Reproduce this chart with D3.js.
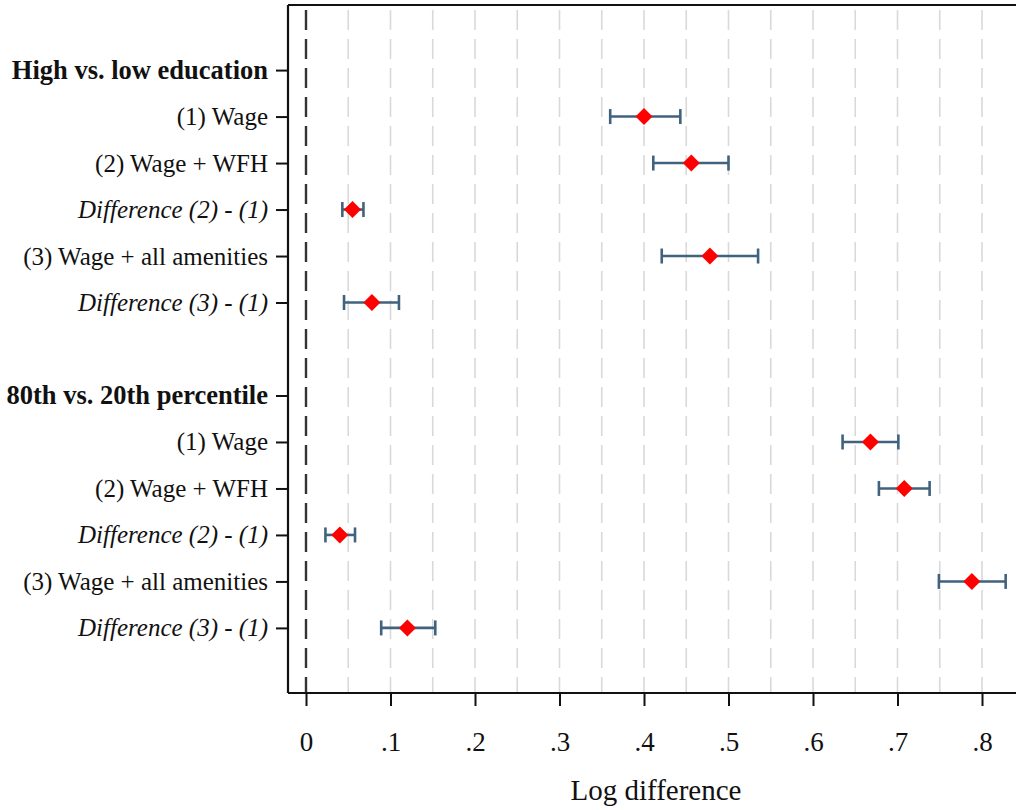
<!DOCTYPE html>
<html>
<head>
<meta charset="utf-8">
<script src="https://cdn.jsdelivr.net/npm/d3@7"></script>
<style>
  body { margin: 0; background: #fff; }
  text { font-family: "Liberation Serif", "Times New Roman", serif; fill: #111; }
</style>
</head>
<body>
<div id="chart"></div>
<script>
// rows top to bottom, "gap" is the empty spacer row between the two blocks
const rowIds = ["edu_head", "edu_1", "edu_2", "edu_d21", "edu_3", "edu_d31", "gap",
                "pct_head", "pct_1", "pct_2", "pct_d21", "pct_3", "pct_d31"];
const rowLabels = ["High vs. low education", "(1) Wage", "(2) Wage + WFH", "Difference (2) - (1)",
                   "(3) Wage + all amenities", "Difference (3) - (1)", "",
                   "80th vs. 20th percentile", "(1) Wage", "(2) Wage + WFH", "Difference (2) - (1)",
                   "(3) Wage + all amenities", "Difference (3) - (1)"];
const rowKind = ["head", "plain", "plain", "diff", "plain", "diff", "gap",
                 "head", "plain", "plain", "diff", "plain", "diff"];

// point estimates with 95% intervals
const pointRows = ["edu_1", "edu_2", "edu_d21", "edu_3", "edu_d31",
                   "pct_1", "pct_2", "pct_d21", "pct_3", "pct_d31"];
const estimate = [0.400, 0.456, 0.055, 0.478, 0.078, 0.668, 0.708, 0.040, 0.788, 0.120];
const ciLow    = [0.360, 0.411, 0.043, 0.421, 0.045, 0.635, 0.678, 0.023, 0.749, 0.089];
const ciHigh   = [0.443, 0.500, 0.068, 0.535, 0.110, 0.701, 0.738, 0.058, 0.828, 0.153];

const xTicks = [0, 0.1, 0.2, 0.3, 0.4, 0.5, 0.6, 0.7, 0.8];
const xTickLabels = ["0", ".1", ".2", ".3", ".4", ".5", ".6", ".7", ".8"];
const xGrid = d3.range(1, 17).map(i => i * 0.05);

const W = 1016, H = 810;
const margin = {top: 5, left: 288, bottom: 117};
const plotBottom = H - margin.bottom;

const svg = d3.select("#chart").append("svg")
    .attr("width", W).attr("height", H);

// x runs past the window edge, the right side of the frame is cut off
const x = d3.scaleLinear().domain([0, 0.8]).range([306, 982]);
const y = d3.scalePoint().domain(rowIds).range([margin.top, plotBottom]).padding(1.4);

// grid lines
svg.append("g").selectAll("line")
  .data(xGrid)
  .enter().append("line")
    .attr("x1", d => x(d)).attr("x2", d => x(d))
    .attr("y1", margin.top + 5).attr("y2", plotBottom)
    .attr("stroke", "#d9d9d9")
    .attr("stroke-width", 1.6)
    .style("stroke-dasharray", "20,9");

// zero reference line
svg.append("line")
    .attr("x1", x(0)).attr("x2", x(0))
    .attr("y1", margin.top + 5).attr("y2", plotBottom)
    .attr("stroke", "#333")
    .attr("stroke-width", 2.4)
    .style("stroke-dasharray", "20,9");

// frame: top, left, bottom
const frame = svg.append("g").attr("stroke", "#111").attr("stroke-width", 2.2);
frame.append("line").attr("x1", margin.left).attr("x2", W + 5).attr("y1", margin.top).attr("y2", margin.top);
frame.append("line").attr("x1", margin.left).attr("x2", margin.left).attr("y1", margin.top).attr("y2", plotBottom);
frame.append("line").attr("x1", margin.left).attr("x2", W + 5).attr("y1", plotBottom).attr("y2", plotBottom);

// X axis
const xAxis = svg.append("g")
    .attr("transform", "translate(0," + plotBottom + ")")
    .call(d3.axisBottom(x).tickValues(xTicks).tickSize(13).tickPadding(26)
      .tickFormat((d, i) => xTickLabels[i]));
xAxis.select(".domain").remove();
xAxis.selectAll(".tick line").attr("stroke", "#111").attr("stroke-width", 2);
xAxis.selectAll(".tick text")
    .style("font-family", "'Liberation Serif', serif")
    .style("font-size", "27px")
    .attr("fill", "#111");

svg.append("text")
    .attr("x", (565 + 747) / 2)
    .attr("y", 800)
    .attr("text-anchor", "middle")
    .style("font-size", "29px")
    .text("Log difference");

// Y axis
const yRows = rowIds.filter((d, i) => rowKind[i] !== "gap");
const yAxis = svg.append("g")
    .attr("transform", "translate(" + margin.left + ",0)")
    .call(d3.axisLeft(y).tickValues(yRows).tickSize(12).tickPadding(8)
      .tickFormat(d => rowLabels[rowIds.indexOf(d)]));
yAxis.select(".domain").remove();
yAxis.selectAll(".tick line").attr("stroke", "#111").attr("stroke-width", 2);
yAxis.selectAll(".tick text")
    .style("font-family", "'Liberation Serif', serif")
    .style("font-size", d => rowKind[rowIds.indexOf(d)] === "head" ? "26.5px" : "25px")
    .style("font-weight", d => rowKind[rowIds.indexOf(d)] === "head" ? "bold" : "normal")
    .style("font-style", d => rowKind[rowIds.indexOf(d)] === "diff" ? "italic" : "normal")
    .attr("fill", "#111");

// intervals
const pts = pointRows.map((r, i) => ({row: r, est: estimate[i], lo: ciLow[i], hi: ciHigh[i]}));
const ciColor = "#41627e";
const ci = svg.append("g").attr("stroke", ciColor).attr("stroke-width", 2.6);
ci.selectAll(".bar").data(pts).enter().append("line")
    .attr("x1", d => x(d.lo)).attr("x2", d => x(d.hi))
    .attr("y1", d => y(d.row)).attr("y2", d => y(d.row));
ci.selectAll(".capL").data(pts).enter().append("line")
    .attr("x1", d => x(d.lo)).attr("x2", d => x(d.lo))
    .attr("y1", d => y(d.row) - 7.5).attr("y2", d => y(d.row) + 7.5);
ci.selectAll(".capR").data(pts).enter().append("line")
    .attr("x1", d => x(d.hi)).attr("x2", d => x(d.hi))
    .attr("y1", d => y(d.row) - 7.5).attr("y2", d => y(d.row) + 7.5);

// diamonds
svg.append("g").selectAll("path")
  .data(pts)
  .enter().append("path")
    .attr("d", d3.symbol().type(d3.symbolSquare).size(145))
    .attr("transform", d => "translate(" + x(d.est) + "," + y(d.row) + ") rotate(45)")
    .attr("fill", "#ff0000");
</script>
</body>
</html>
